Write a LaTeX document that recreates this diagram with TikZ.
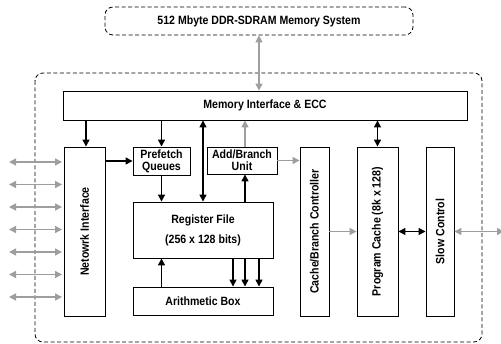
\documentclass[tikz,border=0pt]{standalone}
\usepackage{fontspec}
\setmainfont{Liberation Sans}[FakeStretch=0.88]
\usetikzlibrary{arrows.meta}
\definecolor{arrgray}{gray}{0.62}
\tikzset{
  unit/.style={draw, line width=0.9pt, inner sep=0pt, align=center,
    font=\fontsize{12}{13}\selectfont\bfseries},
  blk/.style={line width=1.4pt, -{Triangle[length=7pt,width=7pt]}},
  blkboth/.style={line width=1.4pt, {Triangle[length=7pt,width=7pt]}-{Triangle[length=7pt,width=7pt]}},
  gry/.style={arrgray, line width=1.4pt, -{Triangle[length=7pt,width=7pt]}},
  gryboth/.style={arrgray, line width=1.4pt, {Triangle[length=7pt,width=7pt]}-{Triangle[length=7pt,width=7pt]}},
  dashbox/.style={line width=0.8pt, dash pattern=on 4pt off 2.5pt, rounded corners=8pt}
}
\begin{document}
\begin{tikzpicture}[x=1pt,y=-1pt]
      \useasboundingbox (0,0) rectangle (501,344);
      % Memory system and chip outline
      \node[unit, dashbox, minimum width=308, minimum height=28] (sdram) at (259,21) {512 Mbyte DDR-SDRAM Memory System};
      \draw[dashbox] (35,73) rectangle (482,342);
      % Memory interface
      \node[unit, minimum width=404, minimum height=29] (mem) at (265,105.5) {Memory Interface \& ECC};
      % Left column
      \node[unit, minimum width=41, minimum height=169] (net) at (84.5,231.5) {\rotatebox{90}{Netowrk Interface}};
      \node[unit, minimum width=57, minimum height=28] (pref) at (161.5,161) {Prefetch\\[-1pt]Queues};
      \node[unit, minimum width=70, minimum height=27] (add) at (242,160.5) {Add/Branch\\[-1pt]Unit};
      \node[unit, minimum width=140, minimum height=56] (reg) at (203,230) {Register File\\[7pt](256 x 128 bits)};
      \node[unit, minimum width=140, minimum height=28] (arith) at (203,301) {Arithmetic Box};
      % Right columns
      \node[unit, minimum width=29, minimum height=169] (cache) at (314.5,231.5) {\rotatebox{90}{Cache/Branch Controller}};
      \node[unit, minimum width=41, minimum height=169] (prog) at (377.5,231.5) {\rotatebox{90}{Program Cache (8k x 128)}};
      \node[unit, minimum width=28, minimum height=169] (slow) at (440,231.5) {\rotatebox{90}{Slow Control}};
      \coordinate (ext) at (504,231.5);
      % Arrows
      \draw[gryboth] (sdram.south) -- (sdram.south |- mem.north);
      \draw[blk] ([xshift=1.5pt]net.north |- mem.south) -- ([xshift=1.5pt]net.north);
      \draw[blk] (pref.north |- mem.south) -- (pref.north);
      \draw[blkboth] (reg.north |- mem.south) -- (reg.north);
      \draw[gry] ([xshift=3pt]add.north) -- ([xshift=3pt]add.north |- mem.south);
      \draw[blkboth] (prog.north |- mem.south) -- (prog.north);
      \draw[blk] (net.east |- pref) -- (pref.west);
      \draw[blk] (pref.south) -- (pref.south |- reg.north);
      \draw[blk] ([xshift=3pt]add.south |- reg.north) -- ([xshift=3pt]add.south);
      \draw[gry] (add.east) -- (add.east -| cache.west);
      \draw[blk] (pref.south |- arith.north) -- (pref.south |- reg.south);
      \foreach \dx in {30,42,56}
        \draw[blk] ([xshift=\dx pt]reg.south) -- ([xshift=\dx pt]arith.north);
      \draw[gry] (cache.east) -- (prog.west);
      \draw[blkboth] (prog.east) -- (slow.west);
      \draw[gryboth] (slow.east) -- (ext);
      % Network links
      \foreach \i in {0,...,6} {
        \coordinate (link\i) at (9,162+22.5*\i);
        \draw[gryboth, shorten >=1.5pt] (link\i) -- (link\i -| net.west);
      }
    \end{tikzpicture}
\end{document}
